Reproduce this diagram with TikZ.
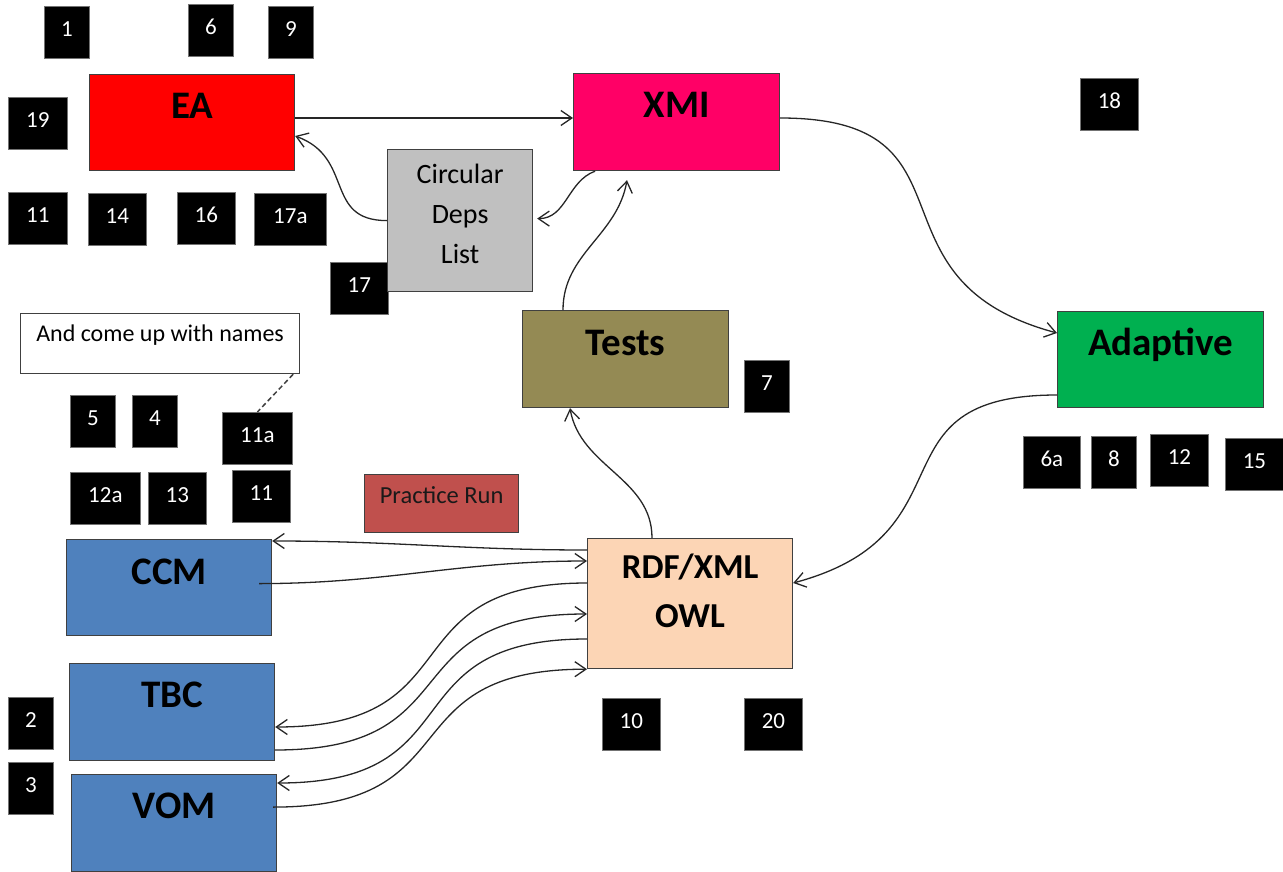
\documentclass[tikz,border=0pt]{standalone}
\usepackage{fontspec}
\setmainfont{Carlito}
\usetikzlibrary{arrows.meta,calc}
\definecolor{eared}{HTML}{FF0000}
\definecolor{xmipink}{HTML}{FF0066}
\definecolor{depsgray}{HTML}{C0C0C0}
\definecolor{testsolive}{HTML}{948A54}
\definecolor{adaptgreen}{HTML}{00B050}
\definecolor{owlpeach}{HTML}{FCD5B5}
\definecolor{modelblue}{HTML}{4F81BD}
\definecolor{practicered}{HTML}{C0504D}

\begin{document}
\begin{tikzpicture}[x=1pt,y=-1pt,
box/.style={draw=black!75,line width=1.2pt,inner sep=0pt,anchor=north west,
  font=\fontsize{39}{42}\selectfont\bfseries},
num/.style={fill=black,draw=black!55,line width=0.8pt,text=white,inner sep=0pt,
  anchor=north west,text height=30pt,text depth=22pt,font=\fontsize{23}{25}\selectfont},
link/.style={draw=black!85,line width=1.3pt,-{Straight Barb[length=11pt,width=15pt]}}]
\useasboundingbox (0,0) rectangle (1283,872);

\node[num,minimum width=45] (n1) at (44,6) {1};
\node[num,minimum width=45] (n6) at (188,4) {6};
\node[num,minimum width=45] (n9) at (268,6) {9};
\node[num,minimum width=59] (n19) at (8,97) {19};
\node[num,minimum width=58] (n18) at (1080,78) {18};
\node[num,minimum width=59] (n11) at (8,192) {11};
\node[num,minimum width=58] (n14) at (88,193) {14};
\node[num,minimum width=58] (n16) at (177,192) {16};
\node[num,minimum width=72] (n17a) at (254,193) {17a};
\node[num,minimum width=58] (n17) at (330,262) {17};
\node[num,minimum width=45] (n7) at (744,360) {7};
\node[num,minimum width=45] (n5) at (70,395) {5};
\node[num,minimum width=45] (n4) at (132,395) {4};
\node[num,minimum width=70] (n11a) at (222,412) {11a};
\node[num,minimum width=70] (n12a) at (70,472) {12a};
\node[num,minimum width=58] (n13) at (148,472) {13};
\node[num,minimum width=58] (n11b) at (232,470) {11};
\node[num,minimum width=57] (n6a) at (1023,436) {6a};
\node[num,minimum width=45] (n8) at (1091,436) {8};
\node[num,minimum width=58] (n12) at (1150,434) {12};
\node[num,minimum width=58] (n15) at (1225,438) {15};
\node[num,minimum width=45] (n2) at (8,697) {2};
\node[num,minimum width=45] (n3) at (8,762) {3};
\node[num,minimum width=58] (n10) at (602,698) {10};
\node[num,minimum width=58] (n20) at (744,698) {20};

\node[box,fill=eared,minimum width=205,text height=44,text depth=52] (ea) at (89,74) {EA};
\node[box,fill=xmipink,minimum width=206,text height=44,text depth=53] (xmi) at (573,73) {XMI};
\node[box,fill=depsgray,minimum width=145,text height=114,text depth=28,align=center,
  font=\fontsize{28}{40}\selectfont,text=black] (circ) at (387,149) {Circular\\Deps\\List};
\node[box,fill=testsolive,minimum width=206,text height=45,text depth=52] (tests) at (522,310) {Tests};
\node[box,fill=adaptgreen,minimum width=206,text height=44,text depth=52] (adapt) at (1057,311) {Adaptive};
\node[box,fill=owlpeach,minimum width=205,text height=89,text depth=41,align=center,
  font=\fontsize{35}{49}\selectfont\bfseries] (rdf) at (587,538) {RDF/XML\\OWL};
\node[box,fill=modelblue,minimum width=205,text height=45,text depth=51] (ccm) at (66,539) {CCM};
\node[box,fill=modelblue,minimum width=205,text height=44,text depth=53] (tbc) at (69,663) {TBC};
\node[box,fill=modelblue,minimum width=205,text height=44,text depth=53] (vom) at (71,774) {VOM};
\node[box,fill=practicered,minimum width=154,text height=29,text depth=29,
  font=\fontsize{24.5}{27}\selectfont,text=black!90] (practice) at (364,474) {Practice Run};
\node[box,fill=white,minimum width=279,text height=28,text depth=32,
  font=\fontsize{24}{27}\selectfont] (names) at (20,313) {And come up with names};

\draw[black!75,line width=1.5pt,dash pattern=on 5pt off 3pt] ($(names.south east)+(-7,0)$) -- (n11a.north);

\draw[link] (ea.east |- 0,118) -- (xmi.west |- 0,118);
\draw[link] (circ.west) to[out=180,in=-20,looseness=1.3] (ea.east |- 0,136);
\draw[link] (xmi.south -| 595,0) to[out=200,in=0] ($(circ.east)+(4,-2)$);
\draw[link] (tests.north -| 563,0) to[out=90,in=-100] ($(xmi.south -| 627,0)+(0,9)$);
\draw[link] (xmi.east |- 0,118) to[out=0,in=165,looseness=1.5] (adapt.west |- 0,333);
\draw[link] (adapt.west |- 0,395) to[out=180,in=15,looseness=1.5] (rdf.east |- 0,583);
\draw[link] (rdf.north -| 652,0) to[out=90,in=-80] (tests.south -| 570,0);
\draw[link] (rdf.west |- 0,550) to[out=180,in=0] (ccm.east |- 0,541);
\draw[link] ($(ccm.east)+(-13,-4)$) to[out=0,in=180] (rdf.west |- 0,561);
\draw[link] (rdf.west |- 0,583) to[out=180,in=0,looseness=1.5] (tbc.east |- 0,727);
\draw[link] (tbc.east |- 0,750) to[out=0,in=180,looseness=1.5] (rdf.west |- 0,614);
\draw[link] (rdf.west |- 0,639) to[out=180,in=0,looseness=1.5] (vom.east |- 0,783);
\draw[link] ($(vom.east)+(-4,-16)$) to[out=0,in=180,looseness=1.5] (rdf.south west);
\end{tikzpicture}
\end{document}
